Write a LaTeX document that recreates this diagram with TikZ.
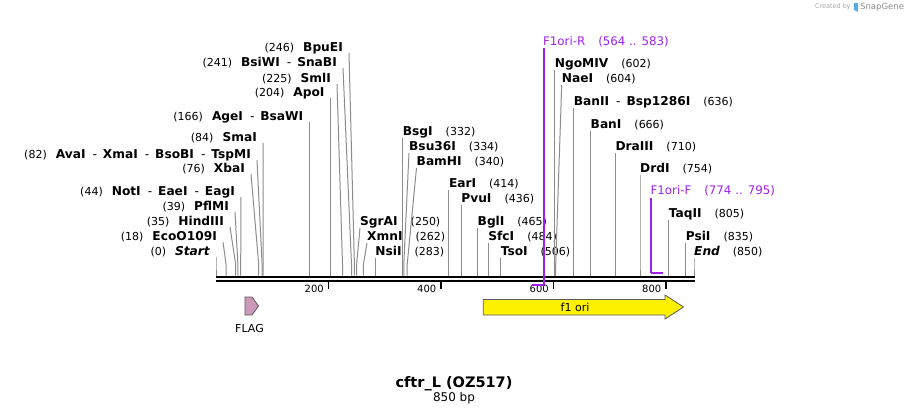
\documentclass[tikz,border=0pt]{standalone}
\usepackage{fontspec}
\setmainfont{DejaVu Sans}
\usepackage{tikz}
\usetikzlibrary{calc}
\usepackage{xcolor}
\definecolor{primerpurple}{RGB}{160,32,240}
\definecolor{cutgray}{RGB}{140,140,140}
\definecolor{flagpink}{RGB}{204,153,187}
\definecolor{sgblue}{RGB}{90,170,230}
\tikzstyle{enz}=[inner sep=0,font=\fontsize{11}{13}\selectfont]
\tikzstyle{enzl}=[enz,anchor=east]
\tikzstyle{enzr}=[enz,anchor=west]
\tikzstyle{primlbl}=[inner sep=0,anchor=west,text=primerpurple,font=\fontsize{11.8}{13}\selectfont]
\tikzstyle{cutline}=[cutgray,line width=1]
\tikzstyle{primer}=[primerpurple,line width=1.3]
\tikzstyle{feat}=[draw=black!65,line width=0.8]
\tikzstyle{tick}=[inner sep=0,anchor=east,font=\fontsize{10}{12}\selectfont]
\newcommand{\enzname}[1]{{\fontsize{12.2}{13}\selectfont\bfseries #1}}
\newcommand{\dsh}{\hspace{7pt}{\mdseries -}\hspace{6pt}}
\newcommand{\gapl}{\hspace{9pt}}
\newcommand{\gapr}{\hspace{13pt}}

\begin{document}
\begin{tikzpicture}[x=1pt,y=-1pt]
\useasboundingbox (0,0) rectangle (911,415);

\node[anchor=east,inner sep=0,text=black!35,font=\fontsize{6.5}{7}\selectfont] (cby) at (851,7) {Created by};
\fill[sgblue] (854,3)--(858,3)--(858,12)--(854,10)--cycle;
\node[anchor=west,inner sep=0,text=black!45,font=\fontsize{8.5}{9}\selectfont] (sg) at (860,7) {SnapGene};

\coordinate (x0) at (216,275.5);
\coordinate (x18) at (226.1,275.5);
\coordinate (x35) at (235.7,275.5);
\coordinate (x39) at (237.9,275.5);
\coordinate (x44) at (240.7,275.5);
\coordinate (x76) at (258.7,275.5);
\coordinate (x82) at (262.1,275.5);
\coordinate (x84) at (263.2,275.5);
\coordinate (x166) at (309.4,275.5);
\coordinate (x204) at (330.7,275.5);
\coordinate (x225) at (342.5,275.5);
\coordinate (x241) at (351.5,275.5);
\coordinate (x246) at (354.4,275.5);
\coordinate (x250) at (356.6,275.5);
\coordinate (x262) at (363.4,275.5);
\coordinate (x283) at (375.2,275.5);
\coordinate (x332) at (402.7,275.5);
\coordinate (x334) at (403.8,275.5);
\coordinate (x340) at (407.2,275.5);
\coordinate (x414) at (448.8,275.5);
\coordinate (x436) at (461.2,275.5);
\coordinate (x465) at (477.5,275.5);
\coordinate (x484) at (488.2,275.5);
\coordinate (x506) at (500.6,275.5);
\coordinate (x602) at (554.6,275.5);
\coordinate (x604) at (555.7,275.5);
\coordinate (x636) at (573.7,275.5);
\coordinate (x666) at (590.5,275.5);
\coordinate (x710) at (615.3,275.5);
\coordinate (x754) at (640,275.5);
\coordinate (x805) at (668.7,275.5);
\coordinate (x835) at (685.6,275.5);
\coordinate (x850) at (694,275.5);

\node[enzl] (start) at (210,252) {(0)\gapl\enzname{\itshape Start}};
\draw [cutline]($(start.east)+(6,5)$)--($(x0)+(0,-11)$)--(x0);
\node[enzl] (ecoo) at (217,237) {(18)\gapl\enzname{EcoO109I}};
\draw [cutline]($(ecoo.east)+(6,5)$)--($(x18)+(0,-11)$)--(x18);
\node[enzl] (hind) at (224,222) {(35)\gapl\enzname{HindIII}};
\draw [cutline]($(hind.east)+(6,5)$)--($(x35)+(0,-11)$)--(x35);
\node[enzl] (pflm) at (229,207) {(39)\gapl\enzname{PflMI}};
\draw [cutline]($(pflm.east)+(6,5)$)--($(x39)+(0,-11)$)--(x39);
\node[enzl] (noti) at (235,192) {(44)\gapl\enzname{NotI\dsh EaeI\dsh EagI}};
\draw [cutline]($(noti.east)+(6,5)$)--($(x44)+(0,-11)$)--(x44);
\node[enzl] (xbai) at (245,169) {(76)\gapl\enzname{XbaI}};
\draw [cutline]($(xbai.east)+(6,5)$)--($(x76)+(0,-11)$)--(x76);
\node[enzl] (avai) at (251,155) {(82)\gapl\enzname{AvaI\dsh XmaI\dsh BsoBI\dsh TspMI}};
\draw [cutline]($(avai.east)+(6,5)$)--($(x82)+(0,-11)$)--(x82);
\node[enzl] (smai) at (257,138) {(84)\gapl\enzname{SmaI}};
\draw [cutline]($(smai.east)+(6,5)$)--($(x84)+(0,-11)$)--(x84);
\node[enzl] (agei) at (303.4,117) {(166)\gapl\enzname{AgeI\dsh BsaWI}};
\draw [cutline]($(agei.east)+(6,5)$)--($(x166)+(0,-11)$)--(x166);
\node[enzl] (apoi) at (324.7,93) {(204)\gapl\enzname{ApoI}};
\draw [cutline]($(apoi.east)+(6,5)$)--($(x204)+(0,-11)$)--(x204);
\node[enzl] (smli) at (331,79) {(225)\gapl\enzname{SmlI}};
\draw [cutline]($(smli.east)+(6,5)$)--($(x225)+(0,-11)$)--(x225);
\node[enzl] (bsiw) at (337,63) {(241)\gapl\enzname{BsiWI\dsh SnaBI}};
\draw [cutline]($(bsiw.east)+(6,5)$)--($(x241)+(0,-11)$)--(x241);
\node[enzl] (bpue) at (343,48) {(246)\gapl\enzname{BpuEI}};
\draw [cutline]($(bpue.east)+(6,5)$)--($(x246)+(0,-11)$)--(x246);

\node[enzr] (sgra) at (360,222) {\enzname{SgrAI}\gapr(250)};
\draw [cutline]($(sgra.west)+(0,6)$)--($(x250)+(0,-11)$)--(x250);
\node[enzr] (xmni) at (367,237) {\enzname{XmnI}\gapr(262)};
\draw [cutline]($(xmni.west)+(0,6)$)--($(x262)+(0,-11)$)--(x262);
\node[enzr] (nsii) at (375.2,252) {\enzname{NsiI}\gapr(283)};
\draw [cutline]($(nsii.west)+(0,6)$)--($(x283)+(0,-11)$)--(x283);
\node[enzr] (bsgi) at (402.7,132) {\enzname{BsgI}\gapr(332)};
\draw [cutline]($(bsgi.west)+(0,6)$)--($(x332)+(0,-11)$)--(x332);
\node[enzr] (bsu) at (409,147) {\enzname{Bsu36I}\gapr(334)};
\draw [cutline]($(bsu.west)+(0,6)$)--($(x334)+(0,-11)$)--(x334);
\node[enzr] (bamh) at (416.5,162) {\enzname{BamHI}\gapr(340)};
\draw [cutline]($(bamh.west)+(0,6)$)--($(x340)+(0,-11)$)--(x340);
\node[enzr] (eari) at (448.8,184) {\enzname{EarI}\gapr(414)};
\draw [cutline]($(eari.west)+(0,6)$)--($(x414)+(0,-11)$)--(x414);
\node[enzr] (pvui) at (461.2,199) {\enzname{PvuI}\gapr(436)};
\draw [cutline]($(pvui.west)+(0,6)$)--($(x436)+(0,-11)$)--(x436);
\node[enzr] (bgli) at (477.5,222) {\enzname{BglI}\gapr(465)};
\draw [cutline]($(bgli.west)+(0,6)$)--($(x465)+(0,-11)$)--(x465);
\node[enzr] (sfci) at (488.2,237) {\enzname{SfcI}\gapr(484)};
\draw [cutline]($(sfci.west)+(0,6)$)--($(x484)+(0,-11)$)--(x484);
\node[enzr] (tsoi) at (500.6,252) {\enzname{TsoI}\gapr(506)};
\draw [cutline]($(tsoi.west)+(0,6)$)--($(x506)+(0,-11)$)--(x506);
\node[enzr] (ngom) at (554.6,64) {\enzname{NgoMIV}\gapr(602)};
\draw [cutline]($(ngom.west)+(0,6)$)--($(x602)+(0,-11)$)--(x602);
\node[enzr] (naei) at (561.7,79) {\enzname{NaeI}\gapr(604)};
\draw [cutline]($(naei.west)+(0,6)$)--($(x604)+(0,-11)$)--(x604);
\node[enzr] (banii) at (573.7,102) {\enzname{BanII\dsh Bsp1286I}\gapr(636)};
\draw [cutline]($(banii.west)+(0,6)$)--($(x636)+(0,-11)$)--(x636);
\node[enzr] (bani) at (590.5,125) {\enzname{BanI}\gapr(666)};
\draw [cutline]($(bani.west)+(0,6)$)--($(x666)+(0,-11)$)--(x666);
\node[enzr] (draiii) at (615.3,147) {\enzname{DraIII}\gapr(710)};
\draw [cutline]($(draiii.west)+(0,6)$)--($(x710)+(0,-11)$)--(x710);
\node[enzr] (drdi) at (640,169) {\enzname{DrdI}\gapr(754)};
\draw [cutline]($(drdi.west)+(0,6)$)--($(x754)+(0,-11)$)--(x754);
\node[enzr] (taqii) at (668.7,214) {\enzname{TaqII}\gapr(805)};
\draw [cutline]($(taqii.west)+(0,6)$)--($(x805)+(0,-11)$)--(x805);
\node[enzr] (psii) at (685.6,237) {\enzname{PsiI}\gapr(835)};
\draw [cutline]($(psii.west)+(0,6)$)--($(x835)+(0,-11)$)--(x835);
\node[enzr] (endp) at (694,252) {\enzname{\itshape End}\gapr(850)};
\draw [cutline]($(endp.west)+(0,6)$)--($(x850)+(0,-11)$)--(x850);

\draw [line width=2](216,276.7)--(694.5,276.7);
\draw [line width=2.3](216,281.2)--(694.5,281.2);
\draw [line width=1.6](328.5,282)--(328.5,289);
\node[tick] (t200) at (324,289) {200};
\draw [line width=1.6](441,282)--(441,289);
\node[tick] (t400) at (436.5,289) {400};
\draw [line width=1.6](553.5,282)--(553.5,289);
\node[tick] (t600) at (549,289) {600};
\draw [line width=1.6](666,282)--(666,289);
\node[tick] (t800) at (661.5,289) {800};

\node[primlbl] (f1r) at (543,42) {F1ori-R\gapr(564 .. 583)};
\coordinate (p583) at (544,285);
\coordinate (p564) at (532,285);
\draw [primer]($(f1r.west)+(1,6)$)--(p583);
\draw [primer,line width=2](p583)--(p564);
\node[primlbl] (f1f) at (650.5,191) {F1ori-F\gapr(774 .. 795)};
\coordinate (p774) at (651,273);
\coordinate (p795) at (662.5,273);
\draw [primer]($(f1f.west)+(0.5,7)$)--(p774);
\draw [primer,line width=2](p774)--(p795);

\draw [feat,fill=flagpink](245,297)--(252,297)--(258.5,306)--(252,315)--(245,315)--cycle;
\node[font=\fontsize{11}{13}\selectfont] (flag) at (249.5,328) {FLAG};
\draw [feat,fill=yellow](483.3,299.5)--(665,299.5)--(665,295)--(683.5,307)--(665,319)--(665,315)--(483.3,315)--cycle;
\node[font=\fontsize{11}{13}\selectfont] (f1ori) at (575,307) {f1 ori};

\node[font=\fontsize{14.5}{16}\selectfont\bfseries] (title) at (454,384) {cftr\_L (OZ517)};
\node[font=\fontsize{12}{13}\selectfont] (len) at (454,398.5) {850 bp};
\end{tikzpicture}
\end{document}
